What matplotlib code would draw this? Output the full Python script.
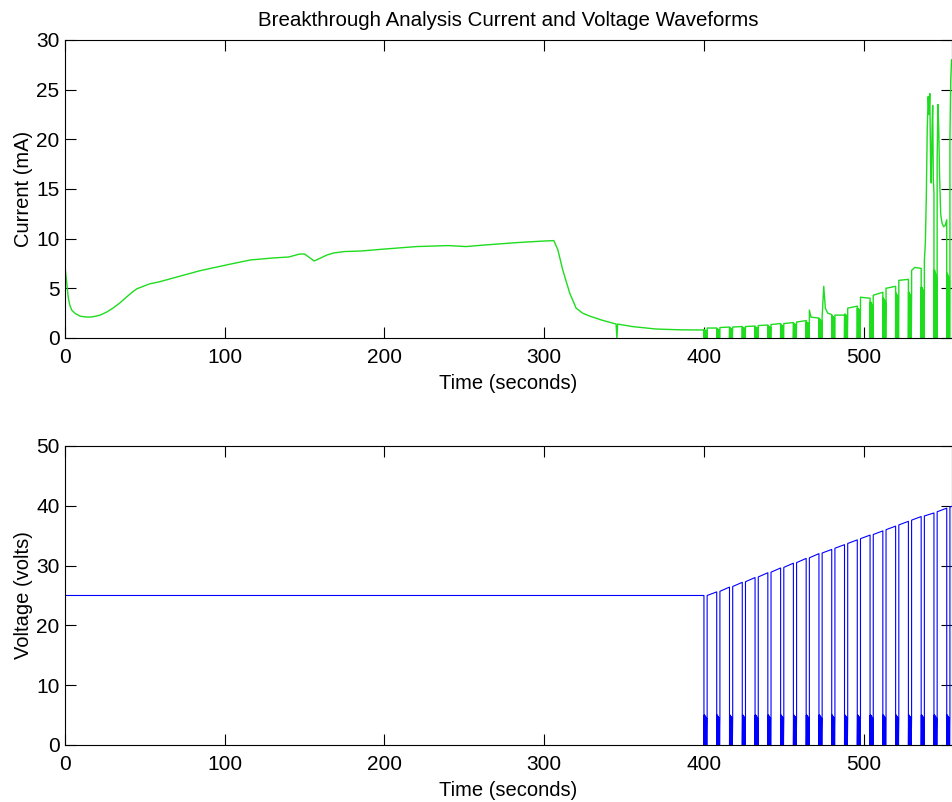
import matplotlib
matplotlib.use('Agg')
import matplotlib.pyplot as plt

# ---- data ----
# current before the pulse train (s, mA)
early_t = [0, 1, 2, 3, 4.2, 6.5, 9.4, 12.5, 15.7, 19, 22, 26, 30, 34.5, 38.7, 42, 45, 53, 59, 68,
           84, 91, 104, 116, 130, 140, 147, 150, 153, 156, 160, 164, 168, 175, 185, 200, 220, 240,
           251, 262, 283, 299, 306, 308.5, 311.6, 316, 320, 324, 328.5, 336, 345, 345.5, 346, 355,
           370, 385, 400]
early_i = [7.2, 5.6, 4.1, 3.3, 2.8, 2.45, 2.2, 2.12, 2.1, 2.18, 2.3, 2.6, 3.0, 3.55, 4.15, 4.6,
           4.95, 5.45, 5.65, 6.05, 6.75, 7.0, 7.45, 7.85, 8.05, 8.15, 8.45, 8.45, 8.1, 7.75, 8.05,
           8.35, 8.55, 8.7, 8.75, 8.95, 9.2, 9.3, 9.2, 9.35, 9.6, 9.75, 9.8, 8.9, 6.85, 4.5, 3.0,
           2.5, 2.2, 1.8, 1.4, 0.0, 1.4, 1.15, 0.9, 0.82, 0.8]

# voltage before the pulse train
early_vt = [0, 400]
early_v = [25, 25]

# pulse train: start of each off-period (s)
pulse_t = [400, 408, 416, 424, 432, 440, 448, 456, 464, 472, 480, 488, 496, 504, 512, 520, 528,
           536, 544, 552]
# burst during each off-period: time offsets (s) and fraction of burst height
burst_dt = [0.0, 0.15, 0.3, 0.45, 0.6, 0.75, 0.9, 1.05, 1.2, 1.35, 1.5, 1.65, 1.8, 2.0]
burst_frac = [0, 1, 0.05, 1, 0, 0.97, 0, 0.95, 0, 0.92, 0, 0.9, 0, 0.9]

# voltage plateau after each off-period (start, end) and burst height
volt_start = [25.0, 25.7, 26.5, 27.3, 28.1, 28.9, 29.7, 30.5, 31.3, 32.1, 32.9, 33.7, 34.5, 35.2,
              36.0, 36.8, 37.6, 38.3, 39.0, 39.8]
volt_end = [25.6, 26.4, 27.2, 28.0, 28.8, 29.6, 30.4, 31.2, 32.0, 32.7, 33.5, 34.3, 35.1, 35.8,
            36.6, 37.4, 38.2, 38.8, 39.6, 40.3]
volt_band = [5] * 20

# current plateau after each off-period (start, end) and burst height
cur_start = [1.0, 1.05, 1.1, 1.15, 1.25, 1.35, 1.45, 1.6, 2.8, 2.1, 2.3, 3.0, 4.1, 4.3, 5.0, 5.8,
             6.8, 7.8, 18.0, 20.0]
cur_end = [1.0, 1.1, 1.15, 1.2, 1.3, 1.45, 1.55, 1.75, 2.0, 2.35, 2.3, 3.2, 4.0, 4.6, 5.2, 5.9,
           7.0, 14.6, 11.9, 28.0]
cur_band = [0.8, 0.9, 1.0, 1.05, 1.1, 1.2, 1.3, 1.45, 1.6, 1.9, 2.2, 2.4, 3.0, 3.6, 4.0, 4.5,
            4.6, 5.1, 6.8, 6.5]
# extra points inside the current plateaus (spikes, breakthrough peaks)
spike_t = [467.0, 475.0, 476.0, 477.5, 532.0, 538.6, 539.2, 539.8, 540.4, 540.9, 541.4, 541.9,
           542.3, 542.8, 543.2, 543.6, 546.5, 547.0, 547.5, 548.2, 549.0, 550.0, 551.0, 554.5, 555.0]
spike_i = [2.1, 5.2, 3.0, 2.5, 7.1, 9.5, 14.0, 21.0, 24.3, 22.5, 24.6, 17.5, 15.6, 21.0, 23.4,
           16.0, 23.5, 21.0, 16.5, 12.5, 11.6, 11.2, 11.3, 26.0, 28.0]


def pulse_train(pre_t, pre_v, start, end, band, ext_t, ext_v):
    t, v = list(pre_t), list(pre_v)
    for k, t0 in enumerate(pulse_t):
        t.append(t0); v.append(0)
        for dt, f in zip(burst_dt, burst_frac):
            t.append(t0 + dt); v.append(f * band[k])
        p0 = t0 + burst_dt[-1]
        p1 = pulse_t[k + 1] if k + 1 < len(pulse_t) else t0 + 8
        t.append(p0); v.append(start[k])
        for et, ev in zip(ext_t, ext_v):
            if p0 < et < p1:
                t.append(et); v.append(ev)
        t.append(p1); v.append(end[k])
    return t, v


cur_t, cur_i = pulse_train(early_t, early_i, cur_start, cur_end, cur_band, spike_t, spike_i)
vol_t, vol_v = pulse_train(early_vt, early_v, volt_start, volt_end, volt_band, [], [])

plt.rcParams['font.family'] = ['Liberation Sans', 'DejaVu Sans']
plt.rcParams['xtick.direction'] = 'in'
plt.rcParams['ytick.direction'] = 'in'

fig = plt.figure(figsize=(9.52, 8.02), dpi=100)
ax1 = fig.add_axes([0.0683, 0.5786, 0.9312, 0.3716])
ax2 = fig.add_axes([0.0683, 0.0711, 0.9312, 0.3728])

ax1.plot(cur_t, cur_i, color='#1edc1e', lw=1.0)
ax2.plot(vol_t, vol_v, color='#0000ff', lw=0.8)

ax1.set_ylim(0, 30)
ax2.set_ylim(0, 50)
for ax in (ax1, ax2):
    ax.set_xlim(0, 555)
    ax.set_xticks([0, 100, 200, 300, 400, 500])
    ax.tick_params(top=True, right=True, length=8, width=0.8, labelsize=15)
    ax.tick_params(axis='x', pad=7)
    ax.tick_params(axis='y', pad=4)
    for s in ax.spines.values():
        s.set_linewidth(0.8)
    ax.set_xlabel('Time (seconds)', fontsize=14.5, labelpad=5)

ax1.set_ylabel('Current (mA)', fontsize=14.5, labelpad=2)
ax2.set_ylabel('Voltage (volts)', fontsize=14.5, labelpad=2)
ax1.set_title('Breakthrough Analysis Current and Voltage Waveforms', fontsize=14.8, pad=10)

fig.savefig('out.png', dpi=100)
